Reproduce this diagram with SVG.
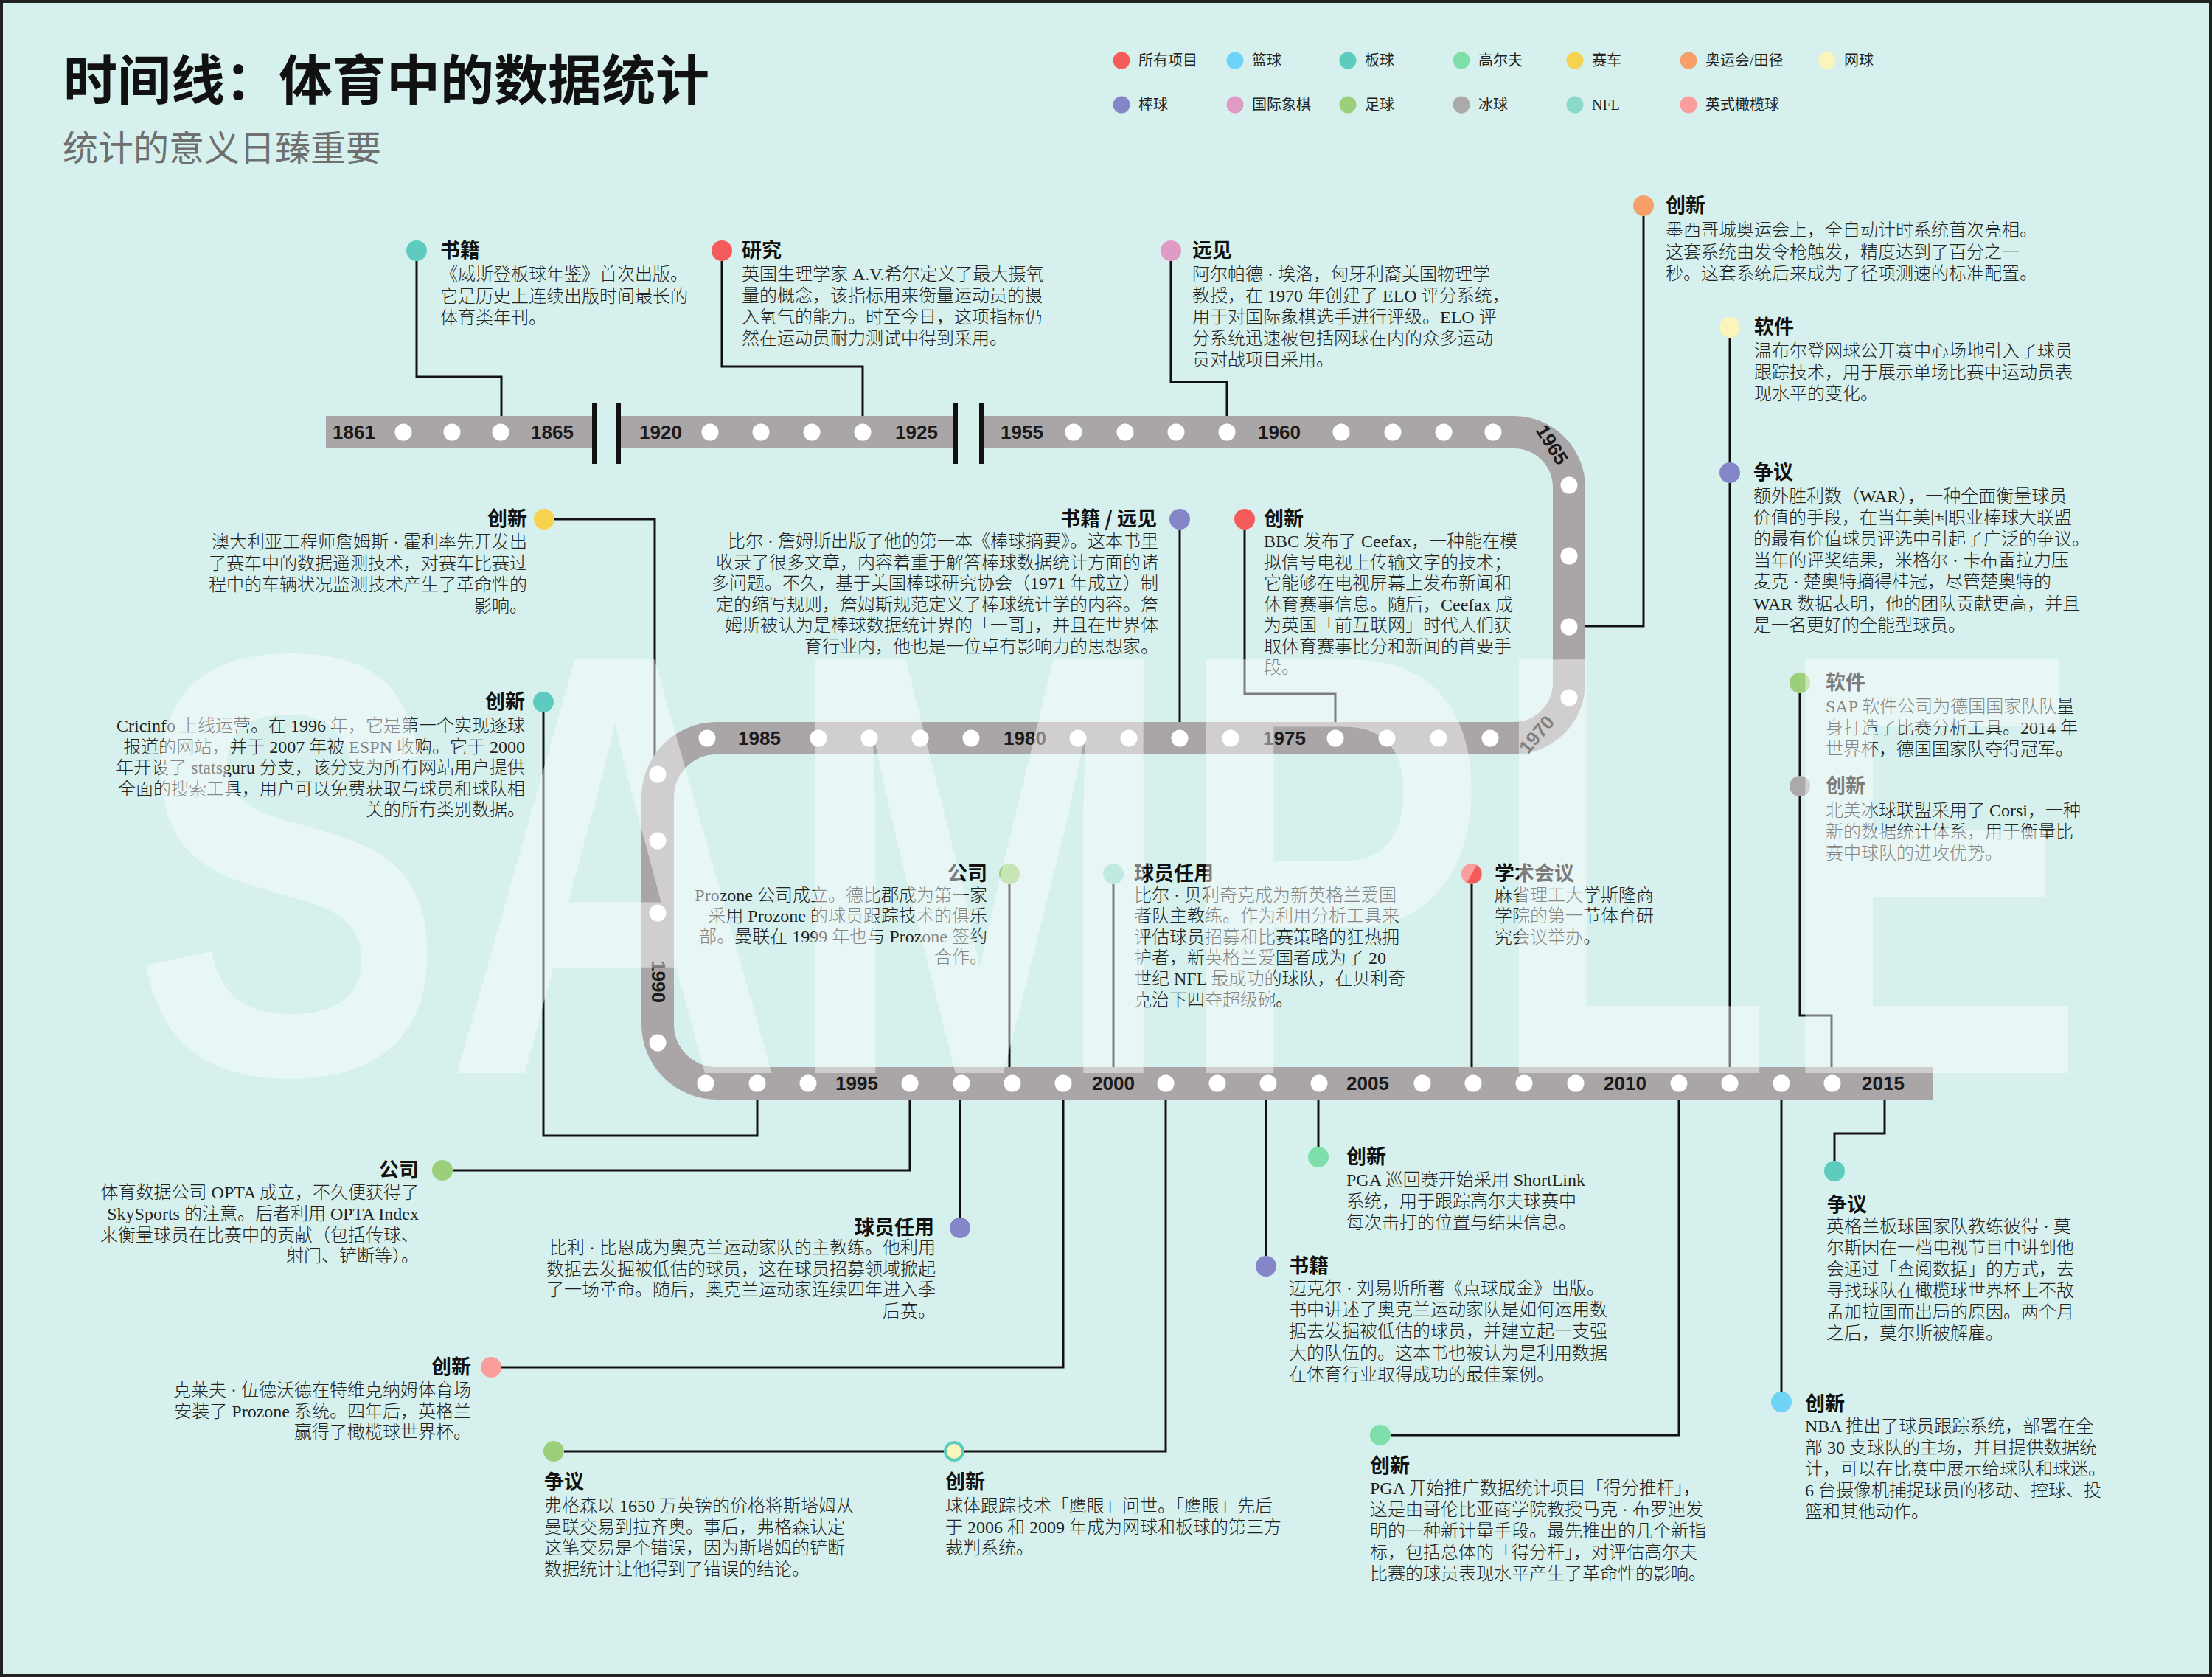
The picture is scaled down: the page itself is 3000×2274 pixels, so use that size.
<svg xmlns="http://www.w3.org/2000/svg" width="3000" height="2274" viewBox="0 0 3000 2274">
<style>
.bg{fill:#d6f1ed}
.t{font-family:"Noto Sans CJK SC","Noto Sans",sans-serif;font-weight:700;font-size:27px;fill:#111}
.b{font-family:"Liberation Serif","Noto Sans CJK SC",serif;font-weight:300;font-size:24px;fill:#222}
.lg{font-family:"Liberation Serif","Noto Sans CJK SC",serif;font-size:20px;fill:#222}
.r{text-anchor:end}
.yr{font-family:"Liberation Sans",sans-serif;font-weight:700;font-size:26px;fill:#1a1a1a;text-anchor:middle}
.c{fill:none;stroke:#111;stroke-width:3}
.trk{fill:none;stroke:#aaa6a7;stroke-width:44}
.td{fill:#fff}
.bar{fill:#111}
</style>
<rect class="bg" x="0" y="0" width="3000" height="2274"/>
<rect x="2" y="2" width="2996" height="2270" fill="none" stroke="#222" stroke-width="4"/>

<g id="title">
<text x="86" y="135" font-family="'Noto Sans CJK SC',sans-serif" font-weight="700" font-size="73" fill="#111">时间线：体育中的数据统计</text>
<text x="85" y="218" font-family="'Noto Sans CJK SC',sans-serif" font-size="48" fill="#6f6f6f">统计的意义日臻重要</text>
</g>

<g id="legend">
<circle cx="1521" cy="82" r="11.5" fill="#f45b5b"/><text class="lg" x="1544" y="89">所有项目</text>
<circle cx="1675" cy="82" r="11.5" fill="#6fd3f7"/><text class="lg" x="1698" y="89">篮球</text>
<circle cx="1828" cy="82" r="11.5" fill="#5ecbbf"/><text class="lg" x="1851" y="89">板球</text>
<circle cx="1982" cy="82" r="11.5" fill="#7fdfaa"/><text class="lg" x="2005" y="89">高尔夫</text>
<circle cx="2136" cy="82" r="11.5" fill="#f7d24e"/><text class="lg" x="2159" y="89">赛车</text>
<circle cx="2290" cy="82" r="11.5" fill="#f69f69"/><text class="lg" x="2313" y="89">奥运会/田径</text>
<circle cx="2478" cy="82" r="11.5" fill="#fbf5bb"/><text class="lg" x="2501" y="89">网球</text>
<circle cx="1521" cy="142" r="11.5" fill="#8586c8"/><text class="lg" x="1544" y="149">棒球</text>
<circle cx="1675" cy="142" r="11.5" fill="#e09ac6"/><text class="lg" x="1698" y="149">国际象棋</text>
<circle cx="1828" cy="142" r="11.5" fill="#9ccf7b"/><text class="lg" x="1851" y="149">足球</text>
<circle cx="1982" cy="142" r="11.5" fill="#aba9a9"/><text class="lg" x="2005" y="149">冰球</text>
<circle cx="2136" cy="142" r="11.5" fill="#8bd9c9"/><text class="lg" x="2159" y="149">NFL</text>
<circle cx="2290" cy="142" r="11.5" fill="#f99d9d"/><text class="lg" x="2313" y="149">英式橄榄球</text>
</g>

<g id="connectors">
<path class="c" d="M565 354 V511 H680 V586"/>
<path class="c" d="M979 354 V497 H1170 V586"/>
<path class="c" d="M1588 354 V518 H1664 V586"/>
<path class="c" d="M2229 293 V849 H2128"/>
<path class="c" d="M2346 458 V1469"/>
<path class="c" d="M2441 940 V1377 H2484 V1469"/>
<path class="c" d="M752 704 H888 V1040"/>
<path class="c" d="M737 966 V1540 H1027 V1469"/>
<path class="c" d="M1600 718 V1001"/>
<path class="c" d="M1688 718 V941 H1811 V1001"/>
<path class="c" d="M1369 1199 V1469"/>
<path class="c" d="M1510 1199 V1469"/>
<path class="c" d="M1996 1199 V1469"/>
<path class="c" d="M614 1587 H1234 V1469"/>
<path class="c" d="M1302 1651 V1469"/>
<path class="c" d="M680 1854 H1442 V1469"/>
<path class="c" d="M765 1968 H1581 V1469"/>
<path class="c" d="M1788 1555 V1469"/>
<path class="c" d="M1717 1703 V1469"/>
<path class="c" d="M1886 1946 H2277 V1469"/>
<path class="c" d="M2556 1469 V1537 H2488 V1574"/>
<path class="c" d="M2416 1469 V1887"/>
</g>

<g id="track">
<path class="trk" d="M442 586 H806"/>
<path class="trk" d="M839 586 H1296"/>
<path class="trk" d="M1331 586 H2053 A75 75 0 0 1 2128 661 V926 A75 75 0 0 1 2053 1001 H972 A80 80 0 0 0 892 1081 V1389 A80 80 0 0 0 972 1469 H2622"/>
<rect class="bar" x="803" y="546" width="6" height="83"/>
<rect class="bar" x="836" y="546" width="6" height="83"/>
<rect class="bar" x="1293" y="546" width="6" height="83"/>
<rect class="bar" x="1328" y="546" width="6" height="83"/>
<g class="td">
<circle cx="547" cy="586" r="11.5"/><circle cx="613" cy="586" r="11.5"/><circle cx="679" cy="586" r="11.5"/>
<circle cx="963" cy="586" r="11.5"/><circle cx="1032" cy="586" r="11.5"/><circle cx="1101" cy="586" r="11.5"/><circle cx="1170" cy="586" r="11.5"/>
<circle cx="1456" cy="586" r="11.5"/><circle cx="1526" cy="586" r="11.5"/><circle cx="1595" cy="586" r="11.5"/><circle cx="1664" cy="586" r="11.5"/>
<circle cx="1819" cy="586" r="11.5"/><circle cx="1889" cy="586" r="11.5"/><circle cx="1958" cy="586" r="11.5"/><circle cx="2025" cy="586" r="11.5"/>
<circle cx="2128" cy="658" r="11.5"/><circle cx="2128" cy="754" r="11.5"/><circle cx="2128" cy="850" r="11.5"/><circle cx="2128" cy="946" r="11.5"/>
<circle cx="2021" cy="1001" r="11.5"/><circle cx="1951" cy="1001" r="11.5"/><circle cx="1881" cy="1001" r="11.5"/><circle cx="1811" cy="1001" r="11.5"/>
<circle cx="1669" cy="1001" r="11.5"/><circle cx="1600" cy="1001" r="11.5"/><circle cx="1531" cy="1001" r="11.5"/><circle cx="1462" cy="1001" r="11.5"/>
<circle cx="1317" cy="1001" r="11.5"/><circle cx="1248" cy="1001" r="11.5"/><circle cx="1179" cy="1001" r="11.5"/><circle cx="1110" cy="1001" r="11.5"/>
<circle cx="959" cy="1001" r="11.5"/>
<circle cx="892" cy="1050" r="11.5"/><circle cx="892" cy="1140" r="11.5"/><circle cx="892" cy="1238" r="11.5"/><circle cx="892" cy="1414" r="11.5"/>
<circle cx="957" cy="1469" r="11.5"/><circle cx="1027" cy="1469" r="11.5"/><circle cx="1096" cy="1469" r="11.5"/>
<circle cx="1234" cy="1469" r="11.5"/><circle cx="1304" cy="1469" r="11.5"/><circle cx="1373" cy="1469" r="11.5"/><circle cx="1442" cy="1469" r="11.5"/>
<circle cx="1581" cy="1469" r="11.5"/><circle cx="1651" cy="1469" r="11.5"/><circle cx="1720" cy="1469" r="11.5"/><circle cx="1789" cy="1469" r="11.5"/>
<circle cx="1929" cy="1469" r="11.5"/><circle cx="1998" cy="1469" r="11.5"/><circle cx="2067" cy="1469" r="11.5"/><circle cx="2137" cy="1469" r="11.5"/>
<circle cx="2277" cy="1469" r="11.5"/><circle cx="2346" cy="1469" r="11.5"/><circle cx="2416" cy="1469" r="11.5"/><circle cx="2485" cy="1469" r="11.5"/>
</g>
<text class="yr" x="480" y="595">1861</text>
<text class="yr" x="749" y="595">1865</text>
<text class="yr" x="896" y="595">1920</text>
<text class="yr" x="1243" y="595">1925</text>
<text class="yr" x="1386" y="595">1955</text>
<text class="yr" x="1735" y="595">1960</text>
<text class="yr" transform="translate(2105,603) rotate(58)" y="9">1965</text>
<text class="yr" transform="translate(2084,996) rotate(-50)" y="9">1970</text>
<text class="yr" x="1742" y="1010">1975</text>
<text class="yr" x="1390" y="1010">1980</text>
<text class="yr" x="1030" y="1010">1985</text>
<text class="yr" transform="translate(893,1331) rotate(90)" y="9">1990</text>
<text class="yr" x="1162" y="1478">1995</text>
<text class="yr" x="1510" y="1478">2000</text>
<text class="yr" x="1855" y="1478">2005</text>
<text class="yr" x="2204" y="1478">2010</text>
<text class="yr" x="2554" y="1478">2015</text>
</g>

<g id="n-wisden">
<circle cx="565" cy="340" r="14" fill="#5ecbbf"/>
<text class="t" x="597" y="349">书籍</text>
<text class="b"><tspan x="597" y="380">《威斯登板球年鉴》首次出版。</tspan><tspan x="597" y="409.5">它是历史上连续出版时间最长的</tspan><tspan x="597" y="439">体育类年刊。</tspan></text>
</g>

<g id="n-hill">
<circle cx="979" cy="340" r="14" fill="#f45b5b"/>
<text class="t" x="1006" y="349">研究</text>
<text class="b"><tspan x="1006" y="380">英国生理学家 A.V.希尔定义了最大摄氧</tspan><tspan x="1006" y="409">量的概念，该指标用来衡量运动员的摄</tspan><tspan x="1006" y="438">入氧气的能力。时至今日，这项指标仍</tspan><tspan x="1006" y="467">然在运动员耐力测试中得到采用。</tspan></text>
</g>

<g id="n-elo">
<circle cx="1588" cy="340" r="14" fill="#e09ac6"/>
<text class="t" x="1617" y="349">远见</text>
<text class="b"><tspan x="1617" y="380">阿尔帕德 · 埃洛，匈牙利裔美国物理学</tspan><tspan x="1617" y="409">教授，在 1970 年创建了 ELO 评分系统，</tspan><tspan x="1617" y="438">用于对国际象棋选手进行评级。ELO 评</tspan><tspan x="1617" y="467">分系统迅速被包括网球在内的众多运动</tspan><tspan x="1617" y="496">员对战项目采用。</tspan></text>
</g>

<g id="n-timing">
<circle cx="2229" cy="279" r="14" fill="#f69f69"/>
<text class="t" x="2259" y="288">创新</text>
<text class="b"><tspan x="2259" y="320">墨西哥城奥运会上，全自动计时系统首次亮相。</tspan><tspan x="2259" y="349.5">这套系统由发令枪触发，精度达到了百分之一</tspan><tspan x="2259" y="379">秒。这套系统后来成为了径项测速的标准配置。</tspan></text>
</g>

<g id="n-wimbledon">
<circle cx="2346" cy="444" r="14" fill="#fbf5bb"/>
<text class="t" x="2379" y="453">软件</text>
<text class="b"><tspan x="2379" y="484">温布尔登网球公开赛中心场地引入了球员</tspan><tspan x="2379" y="513">跟踪技术，用于展示单场比赛中运动员表</tspan><tspan x="2379" y="542">现水平的变化。</tspan></text>
</g>

<g id="n-war">
<circle cx="2346" cy="641" r="14" fill="#8586c8"/>
<text class="t" x="2378" y="650">争议</text>
<text class="b"><tspan x="2378" y="681">额外胜利数（WAR），一种全面衡量球员</tspan><tspan x="2378" y="710">价值的手段，在当年美国职业棒球大联盟</tspan><tspan x="2378" y="739">的最有价值球员评选中引起了广泛的争议。</tspan><tspan x="2378" y="768">当年的评奖结果，米格尔 · 卡布雷拉力压</tspan><tspan x="2378" y="797">麦克 · 楚奥特摘得桂冠，尽管楚奥特的</tspan><tspan x="2378" y="827">WAR 数据表明，他的团队贡献更高，并且</tspan><tspan x="2378" y="856">是一名更好的全能型球员。</tspan></text>
</g>

<g id="n-sap">
<circle cx="2441" cy="926" r="14" fill="#9ccf7b"/>
<text class="t" x="2476" y="935">软件</text>
<text class="b"><tspan x="2476" y="966">SAP 软件公司为德国国家队队量</tspan><tspan x="2476" y="995">身打造了比赛分析工具。2014 年</tspan><tspan x="2476" y="1024">世界杯，德国国家队夺得冠军。</tspan></text>
</g>

<g id="n-corsi">
<circle cx="2441" cy="1066" r="14" fill="#aba9a9"/>
<text class="t" x="2476" y="1075">创新</text>
<text class="b"><tspan x="2476" y="1107">北美冰球联盟采用了 Corsi，一种</tspan><tspan x="2476" y="1136">新的数据统计体系，用于衡量比</tspan><tspan x="2476" y="1165">赛中球队的进攻优势。</tspan></text>
</g>

<g id="n-telemetry">
<circle cx="738" cy="704" r="14" fill="#f7d24e"/>
<text class="t r" x="715" y="713">创新</text>
<text class="b r"><tspan x="715" y="743">澳大利亚工程师詹姆斯 · 霍利率先开发出</tspan><tspan x="715" y="772">了赛车中的数据遥测技术，对赛车比赛过</tspan><tspan x="715" y="801">程中的车辆状况监测技术产生了革命性的</tspan><tspan x="715" y="830">影响。</tspan></text>
</g>

<g id="n-cricinfo">
<circle cx="737" cy="952" r="14" fill="#5ecbbf"/>
<text class="t r" x="712" y="961">创新</text>
<text class="b r"><tspan x="712" y="992">Cricinfo 上线运营。在 1996 年，它是第一个实现逐球</tspan><tspan x="712" y="1020.5">报道的网站，并于 2007 年被 ESPN 收购。它于 2000</tspan><tspan x="712" y="1049">年开设了 statsguru 分支，该分支为所有网站用户提供</tspan><tspan x="712" y="1077.5">全面的搜索工具，用户可以免费获取与球员和球队相</tspan><tspan x="712" y="1106">关的所有类别数据。</tspan></text>
</g>

<g id="n-billjames">
<circle cx="1600" cy="704" r="14" fill="#8586c8"/>
<text class="t r" x="1569" y="713">书籍 / 远见</text>
<text class="b r"><tspan x="1571" y="742">比尔 · 詹姆斯出版了他的第一本《棒球摘要》。这本书里</tspan><tspan x="1571" y="770.5">收录了很多文章，内容着重于解答棒球数据统计方面的诸</tspan><tspan x="1571" y="799">多问题。不久，基于美国棒球研究协会（1971 年成立）制</tspan><tspan x="1571" y="827.5">定的缩写规则，詹姆斯规范定义了棒球统计学的内容。詹</tspan><tspan x="1571" y="856">姆斯被认为是棒球数据统计界的「一哥」，并且在世界体</tspan><tspan x="1571" y="884.5">育行业内，他也是一位卓有影响力的思想家。</tspan></text>
</g>

<g id="n-ceefax">
<circle cx="1688" cy="704" r="14" fill="#f45b5b"/>
<text class="t" x="1714" y="713">创新</text>
<text class="b"><tspan x="1714" y="742">BBC 发布了 Ceefax，一种能在模</tspan><tspan x="1714" y="770.5">拟信号电视上传输文字的技术；</tspan><tspan x="1714" y="799">它能够在电视屏幕上发布新闻和</tspan><tspan x="1714" y="827.5">体育赛事信息。随后，Ceefax 成</tspan><tspan x="1714" y="856">为英国「前互联网」时代人们获</tspan><tspan x="1714" y="884.5">取体育赛事比分和新闻的首要手</tspan><tspan x="1714" y="913">段。</tspan></text>
</g>

<g id="n-prozone">
<circle cx="1369" cy="1185" r="14" fill="#9ccf7b"/>
<text class="t r" x="1339" y="1194">公司</text>
<text class="b r"><tspan x="1339" y="1222">Prozone 公司成立。德比郡成为第一家</tspan><tspan x="1339" y="1250">采用 Prozone 的球员跟踪技术的俱乐</tspan><tspan x="1339" y="1278">部。曼联在 1999 年也与 Prozone 签约</tspan><tspan x="1339" y="1306">合作。</tspan></text>
</g>

<g id="n-belichick">
<circle cx="1510" cy="1185" r="14" fill="#8bd9c9"/>
<text class="t" x="1538" y="1194">球员任用</text>
<text class="b"><tspan x="1538" y="1222">比尔 · 贝利奇克成为新英格兰爱国</tspan><tspan x="1538" y="1250.3">者队主教练。作为利用分析工具来</tspan><tspan x="1538" y="1278.6">评估球员招募和比赛策略的狂热拥</tspan><tspan x="1538" y="1306.9">护者，新英格兰爱国者成为了 20</tspan><tspan x="1538" y="1335.2">世纪 NFL 最成功的球队，在贝利奇</tspan><tspan x="1538" y="1363.5">克治下四夺超级碗。</tspan></text>
</g>

<g id="n-sloan">
<circle cx="1996" cy="1185" r="14" fill="#f99d9d"/>
<path d="M2003 1172.9 A14 14 0 0 1 1989 1197.1 Z" fill="#f45b5b"/>
<text class="t" x="2027" y="1194">学术会议</text>
<text class="b"><tspan x="2027" y="1222">麻省理工大学斯隆商</tspan><tspan x="2027" y="1250.3">学院的第一节体育研</tspan><tspan x="2027" y="1278.6">究会议举办。</tspan></text>
</g>

<g id="n-opta">
<circle cx="600" cy="1587" r="14" fill="#9ccf7b"/>
<text class="t r" x="568" y="1596">公司</text>
<text class="b r"><tspan x="568" y="1625">体育数据公司 OPTA 成立，不久便获得了</tspan><tspan x="568" y="1654">SkySports 的注意。后者利用 OPTA Index</tspan><tspan x="568" y="1683">来衡量球员在比赛中的贡献（包括传球、</tspan><tspan x="568" y="1711">射门、铲断等）。</tspan></text>
</g>

<g id="n-beane">
<circle cx="1302" cy="1665" r="14" fill="#8586c8"/>
<text class="t r" x="1267" y="1674">球员任用</text>
<text class="b r"><tspan x="1269" y="1700">比利 · 比恩成为奥克兰运动家队的主教练。他利用</tspan><tspan x="1269" y="1728.7">数据去发掘被低估的球员，这在球员招募领域掀起</tspan><tspan x="1269" y="1757.4">了一场革命。随后，奥克兰运动家连续四年进入季</tspan><tspan x="1269" y="1786">后赛。</tspan></text>
</g>

<g id="n-woodward">
<circle cx="666" cy="1854" r="14" fill="#f99d9d"/>
<text class="t r" x="639" y="1863">创新</text>
<text class="b r"><tspan x="639" y="1893">克莱夫 · 伍德沃德在特维克纳姆体育场</tspan><tspan x="639" y="1922">安装了 Prozone 系统。四年后，英格兰</tspan><tspan x="639" y="1950">赢得了橄榄球世界杯。</tspan></text>
</g>

<g id="n-ferguson">
<circle cx="751" cy="1968" r="14" fill="#9ccf7b"/>
<text class="t" x="738" y="2019">争议</text>
<text class="b"><tspan x="738" y="2050">弗格森以 1650 万英镑的价格将斯塔姆从</tspan><tspan x="738" y="2078.7">曼联交易到拉齐奥。事后，弗格森认定</tspan><tspan x="738" y="2107.4">这笔交易是个错误，因为斯塔姆的铲断</tspan><tspan x="738" y="2136">数据统计让他得到了错误的结论。</tspan></text>
</g>

<g id="n-hawkeye">
<circle cx="1294" cy="1968" r="12" fill="#fbf5bb" stroke="#5ecbbf" stroke-width="4"/>
<text class="t" x="1282" y="2019">创新</text>
<text class="b"><tspan x="1282" y="2050">球体跟踪技术「鹰眼」问世。「鹰眼」先后</tspan><tspan x="1282" y="2078.7">于 2006 和 2009 年成为网球和板球的第三方</tspan><tspan x="1282" y="2107.4">裁判系统。</tspan></text>
</g>

<g id="n-shotlink">
<circle cx="1788" cy="1569" r="14" fill="#7fdfaa"/>
<text class="t" x="1826" y="1578">创新</text>
<text class="b"><tspan x="1826" y="1608">PGA 巡回赛开始采用 ShortLink</tspan><tspan x="1826" y="1637">系统，用于跟踪高尔夫球赛中</tspan><tspan x="1826" y="1666">每次击打的位置与结果信息。</tspan></text>
</g>

<g id="n-moneyball">
<circle cx="1717" cy="1717" r="14" fill="#8586c8"/>
<text class="t" x="1748" y="1726">书籍</text>
<text class="b"><tspan x="1748" y="1755">迈克尔 · 刘易斯所著《点球成金》出版。</tspan><tspan x="1748" y="1784.2">书中讲述了奥克兰运动家队是如何运用数</tspan><tspan x="1748" y="1813.4">据去发掘被低估的球员，并建立起一支强</tspan><tspan x="1748" y="1842.6">大的队伍的。这本书也被认为是利用数据</tspan><tspan x="1748" y="1871.8">在体育行业取得成功的最佳案例。</tspan></text>
</g>

<g id="n-strokesgained">
<circle cx="1872" cy="1946" r="14" fill="#7fdfaa"/>
<text class="t" x="1858" y="1997">创新</text>
<text class="b"><tspan x="1858" y="2026">PGA 开始推广数据统计项目「得分推杆」，</tspan><tspan x="1858" y="2055">这是由哥伦比亚商学院教授马克 · 布罗迪发</tspan><tspan x="1858" y="2084">明的一种新计量手段。最先推出的几个新指</tspan><tspan x="1858" y="2113">标，包括总体的「得分杆」，对评估高尔夫</tspan><tspan x="1858" y="2142">比赛的球员表现水平产生了革命性的影响。</tspan></text>
</g>

<g id="n-moores">
<circle cx="2488" cy="1588" r="14" fill="#5ecbbf"/>
<text class="t" x="2478" y="1643">争议</text>
<text class="b"><tspan x="2477" y="1671">英格兰板球国家队教练彼得 · 莫</tspan><tspan x="2477" y="1700">尔斯因在一档电视节目中讲到他</tspan><tspan x="2477" y="1729">会通过「查阅数据」的方式，去</tspan><tspan x="2477" y="1758">寻找球队在橄榄球世界杯上不敌</tspan><tspan x="2477" y="1787">孟加拉国而出局的原因。两个月</tspan><tspan x="2477" y="1816">之后，莫尔斯被解雇。</tspan></text>
</g>

<g id="n-nba">
<circle cx="2416" cy="1901" r="14" fill="#6fd3f7"/>
<text class="t" x="2448" y="1913">创新</text>
<text class="b"><tspan x="2448" y="1942">NBA 推出了球员跟踪系统，部署在全</tspan><tspan x="2448" y="1971">部 30 支球队的主场，并且提供数据统</tspan><tspan x="2448" y="2000">计，可以在比赛中展示给球队和球迷。</tspan><tspan x="2448" y="2029">6 台摄像机捕捉球员的移动、控球、投</tspan><tspan x="2448" y="2058">篮和其他动作。</tspan></text>
</g>

<g id="watermark">
<text x="180" y="1455" font-family="'Liberation Sans',sans-serif" font-weight="700" font-size="815" textLength="2650" lengthAdjust="spacingAndGlyphs" fill="#fff" fill-opacity="0.45">SAMPLE</text>
</g>
</svg>
